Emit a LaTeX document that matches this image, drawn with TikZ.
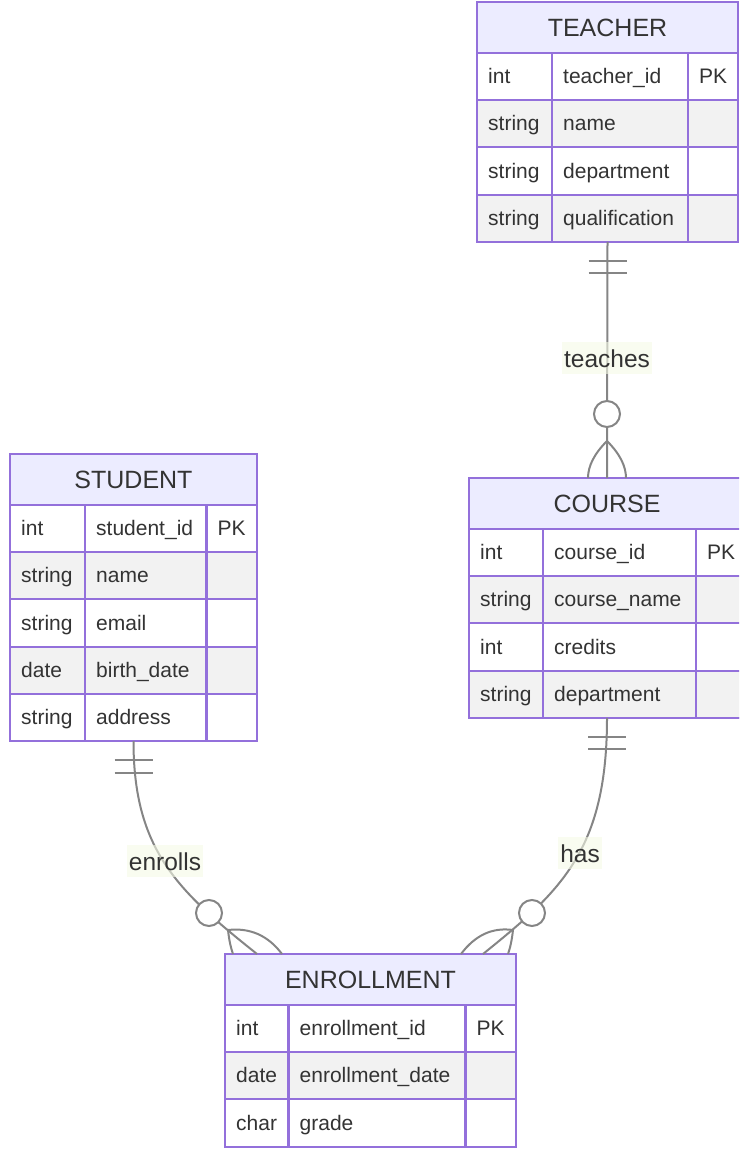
\documentclass[tikz,border=0pt]{standalone}
\usepackage{fontspec}
\setmainfont{Liberation Sans}
\usetikzlibrary{calc}

\definecolor{erborder}{HTML}{9370DB}
\definecolor{erhead}{HTML}{ECECFF}
\definecolor{erstripe}{HTML}{F2F2F2}
\definecolor{ertext}{HTML}{333333}
\definecolor{erline}{HTML}{858585}
\definecolor{erlabel}{HTML}{F5FAE6}

\tikzset{
  tblline/.style={draw=erborder, line width=2.2pt},
  hdrtext/.style={font=\fontsize{25}{29}\selectfont, text=ertext, inner sep=0pt, anchor=base},
  celltext/.style={font=\fontsize{21}{25}\selectfont, text=ertext, inner sep=0pt, anchor=base west},
  rel/.style={draw=erline, line width=2pt},
  rellabel/.style={font=\fontsize{24.5}{28}\selectfont, text=ertext, fill=erlabel,
    fill opacity=0.6, text opacity=1, inner xsep=2pt, inner ysep=0pt,
    minimum height=32pt, text height=18pt, text depth=0pt},
}

% #1 name, #2 left, #3 first divider, #4 second divider, #5 right,
% #6 top, #7 number of rows, #8 title, #9 rows as type/name/key
\newcommand{\erentity}[9]{%
  \pgfmathsetmacro{\erbot}{#6+50.7+#7*47.3}
  \fill[erhead] (#2,#6) rectangle (#5,{#6+50.7});
  % striped row backgrounds and cell texts
  \foreach \ty/\nm/\ky [count=\rowi] in {#9} {
    \pgfmathsetmacro{\ya}{#6+50.7+(\rowi-1)*47.3}
    \pgfmathsetmacro{\yb}{\ya+47.3}
    \ifodd\rowi\relax
      \fill[white] (#2,\ya) rectangle (#5,\yb);
    \else
      \fill[erstripe] (#2,\ya) rectangle (#5,\yb);
    \fi
    \node[celltext] (#1-\rowi-type) at ({#2+11},{\ya+30.7}) {\ty};
    \node[celltext] (#1-\rowi-name) at ({#3+11},{\ya+30.7}) {\nm};
    \node[celltext] (#1-\rowi-key)  at ({#4+11},{\ya+30.7}) {\ky};
  }
  % grid lines on top of the fills
  \foreach \rowi in {0,...,#7} {
    \draw[tblline] (#2,{#6+50.7+\rowi*47.3}) -- (#5,{#6+50.7+\rowi*47.3});
  }
  \draw[tblline] (#3,{#6+50.7}) -- (#3,\erbot);
  \draw[tblline] (#4,{#6+50.7}) -- (#4,\erbot);
  \draw[tblline] (#2,#6) rectangle (#5,\erbot);
  \node[hdrtext] (#1) at ({(#2+#5)/2},{#6+34}) {#8};
}

\begin{document}
\begin{tikzpicture}[x=1pt, y=-1pt]
  \useasboundingbox (0,0) rectangle (739,1151);
  \clip (0,0) rectangle (739,1151);

  % entities
  \erentity{teacher}{477}{552}{688}{738}{2}{4}{TEACHER}
    {int/teacher\_id/PK, string/name/{}, string/department/{}, string/qualification/{}}
  \erentity{student}{10}{85}{206.5}{257}{454}{5}{STUDENT}
    {int/student\_id/PK, string/name/{}, string/email/{}, date/birth\_date/{}, string/address/{}}
  \erentity{course}{469}{543}{696}{745}{478}{4}{COURSE}
    {int/course\_id/PK, string/course\_name/{}, int/credits/{}, string/department/{}}
  \erentity{enroll}{225}{288.5}{465.5}{516}{954}{3}{ENROLLMENT}
    {int/enrollment\_id/PK, date/enrollment\_date/{}, char/grade/{}}

  % attachment points on the tables
  \coordinate (teacher-s) at (607.5,241.9);
  \coordinate (course-n)  at (607,478);
  \coordinate (course-s)  at (607,717.9);
  \coordinate (student-s) at (133.5,741.2);
  \coordinate (enroll-a)  at (257,954);
  \coordinate (enroll-b)  at (483,954);

  % TEACHER ||--o{ COURSE
  \draw[rel] (teacher-s) -- (course-n);
  \draw[rel] ($(teacher-s)+(-19,19)$) -- +(38,0);
  \draw[rel] ($(teacher-s)+(-19,31.5)$) -- +(38,0);
  \draw[rel] ($(course-n)+(0,-37)$) .. controls +(-12.7,12.7) and +(0,-12) .. ($(course-n)+(-19,0)$);
  \draw[rel] ($(course-n)+(0,-37)$) .. controls +(12.7,12.7) and +(0,-12) .. ($(course-n)+(19,0)$);
  \draw[rel, fill=white] ($(course-n)+(0,-64)$) circle[radius=13];

  % STUDENT ||--o{ ENROLLMENT
  \draw[rel] (student-s) .. controls +(0,109) and +(-79,-63) .. (enroll-a);
  \draw[rel] ($(student-s)+(-19,19)$) -- +(38,0);
  \draw[rel] ($(student-s)+(-19,31.5)$) -- +(38,0);
  \draw[rel] ($(enroll-a)+(-29,-24)$) .. controls +(22.1,-2.5) and +(-13.9,-18.5) .. ($(enroll-a)+(25,0)$);
  \draw[rel] ($(enroll-a)+(-29,-24)$) .. controls +(1.1,9.9) and +(-2.2,-6.1) .. ($(enroll-a)+(-24,0)$);
  \draw[rel, fill=white] ($(enroll-a)+(-48,-41)$) circle[radius=13];

  % COURSE ||--o{ ENROLLMENT
  \draw[rel] (course-s) .. controls +(0,132) and +(78,-63) .. (enroll-b);
  \draw[rel] ($(course-s)+(-19,19)$) -- +(38,0);
  \draw[rel] ($(course-s)+(-19,31.5)$) -- +(38,0);
  \draw[rel] ($(enroll-b)+(30,-24)$) .. controls +(-20.5,-2.9) and +(14.2,-18.9) .. ($(enroll-b)+(-22,0)$);
  \draw[rel] ($(enroll-b)+(30,-24)$) .. controls +(-1.1,9.9) and +(2.2,-6.1) .. ($(enroll-b)+(25,0)$);
  \draw[rel, fill=white] ($(enroll-b)+(49,-41)$) circle[radius=13];

  % relationship labels
  \node[rellabel] (lbl-teaches) at (607,358) {teaches};
  \node[rellabel] (lbl-enrolls) at (165,861) {enrolls};
  \node[rellabel] (lbl-has)     at (580,853) {has};
\end{tikzpicture}
\end{document}
